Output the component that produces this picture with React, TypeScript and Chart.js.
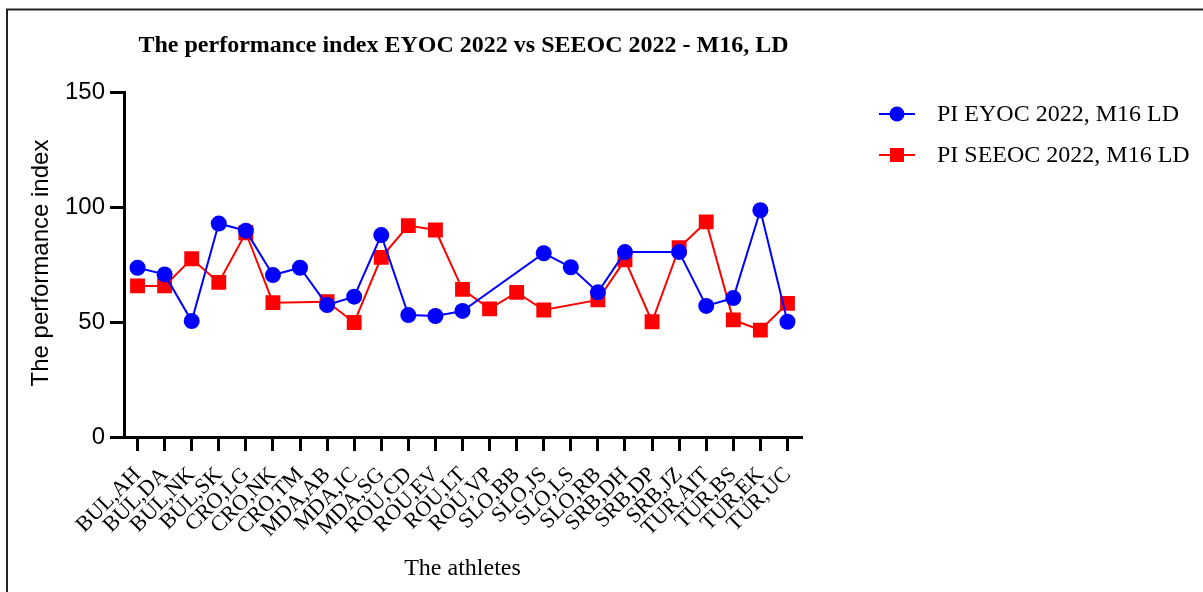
import React, { useEffect, useRef } from "react";
import { Chart, registerables } from "chart.js";

Chart.register(...registerables);

const athletes = [
  "BUL,AH", "BUL,DA", "BUL,NK", "BUL,SK", "CRO,LG", "CRO,NK", "CRO,TM",
  "MDA,AB", "MDA,IC", "MDA,SG", "ROU,CD", "ROU,EV", "ROU,LT", "ROU,VP",
  "SLO,BB", "SLO,JS", "SLO,LS", "SLO,RB", "SRB,DH", "SRB,DP", "SRB,JZ",
  "TUR,AIT", "TUR,BS", "TUR,EK", "TUR,UC",
];

const piEyoc: (number | null)[] = [
  73.6, 70.7, 50.4, 92.8, 89.7, 70.4, 73.6,
  57.4, 61.0, 87.8, 53.0, 52.6, 54.8, null,
  null, 79.9, 73.8, 62.9, 80.4, null, 80.4,
  57.0, 60.4, 98.6, 50.1,
];

const piSeeoc: (number | null)[] = [
  65.7, 65.7, 77.5, 67.2, 88.8, 58.4, null,
  58.8, 49.8, 78.1, 91.9, 90.0, 64.2, 55.7,
  62.9, 55.2, null, 59.6, 77.0, 50.1, 82.3,
  93.5, 50.9, 46.5, 58.1,
];

const yTicks = [0, 50, 100, 150];

const seriesNames = ["PI EYOC 2022, M16 LD", "PI SEEOC 2022, M16 LD"];
const chartTitle = "The performance index EYOC 2022 vs SEEOC 2022 - M16, LD";
const xTitle = "The athletes";
const yTitle = "The performance index";

const SERIF = "'Liberation Serif', 'Times New Roman', serif";
const SANS = "'Liberation Sans', Arial, sans-serif";

const decorPlugin = {
  id: "decor",
  afterDraw(chart: any) {
    const ctx = chart.ctx as CanvasRenderingContext2D;
    const area = chart.chartArea;
    ctx.save();
    // frame
    ctx.strokeStyle = "#222";
    ctx.lineWidth = 2;
    ctx.beginPath();
    ctx.moveTo(7, 592);
    ctx.lineTo(7, 9.5);
    ctx.lineTo(1203, 9.5);
    ctx.stroke();

    const cx = (area.left + area.right) / 2;
    ctx.fillStyle = "#000";
    ctx.textAlign = "center";
    ctx.textBaseline = "alphabetic";
    ctx.font = `bold 24px ${SERIF}`;
    ctx.fillText(chartTitle, cx + 1, 52);

    ctx.font = `24px ${SERIF}`;
    ctx.fillText(xTitle, cx, 575);

    ctx.save();
    ctx.translate(48, 263);
    ctx.rotate(-Math.PI / 2);
    ctx.font = `24px ${SANS}`;
    ctx.fillText(yTitle, 0, 0);
    ctx.restore();

    // legend
    const items = [
      { y: 114, color: "#0000FF", style: "circle" },
      { y: 155, color: "#FF0000", style: "rect" },
    ];
    items.forEach((it, i) => {
      ctx.strokeStyle = it.color;
      ctx.lineWidth = 2;
      ctx.beginPath();
      ctx.moveTo(879, it.y);
      ctx.lineTo(915, it.y);
      ctx.stroke();
      ctx.fillStyle = it.color;
      if (it.style === "circle") {
        ctx.beginPath();
        ctx.arc(897, it.y, 7.5, 0, Math.PI * 2);
        ctx.fill();
      } else {
        ctx.fillRect(897 - 7, it.y - 7, 14, 14);
      }
      ctx.fillStyle = "#000";
      ctx.textAlign = "left";
      ctx.textBaseline = "middle";
      ctx.font = `24px ${SERIF}`;
      ctx.fillText(seriesNames[i], 937, it.y + 1);
    });
    ctx.restore();
  },
};

export default function App() {
  const ref = useRef<HTMLCanvasElement>(null);
  useEffect(() => {
    document.body.style.margin = "0";
    const canvas = ref.current;
    if (!canvas) return;
    const chart = new Chart(canvas, {
      type: "line",
      data: {
        labels: athletes,
        datasets: [
          {
            label: seriesNames[0],
            data: piEyoc,
            borderColor: "#0000FF",
            backgroundColor: "#0000FF",
            borderWidth: 2,
            pointStyle: "circle",
            pointRadius: 8,
            pointBorderWidth: 0,
            spanGaps: true,
            tension: 0,
          },
          {
            label: seriesNames[1],
            data: piSeeoc,
            borderColor: "#FF0000",
            backgroundColor: "#FF0000",
            borderWidth: 2,
            pointStyle: "rect",
            pointRadius: 10.5,
            pointBorderWidth: 0,
            spanGaps: true,
            tension: 0,
          },
        ],
      },
      options: {
        responsive: false,
        animation: false,
        layout: { padding: { left: 0, top: 92, right: 402, bottom: 0 } },
        plugins: {
          legend: { display: false },
          title: { display: false },
          tooltip: { enabled: false },
        },
        scales: {
          x: {
            offset: true,
            grid: {
              display: true,
              drawOnChartArea: false,
              drawTicks: true,
              tickLength: 14,
              color: "#000",
              lineWidth: 3,
              offset: false,
            },
            border: { display: true, color: "#000", width: 3 },
            ticks: {
              autoSkip: false,
              maxRotation: 45,
              minRotation: 45,
              color: "#000",
              padding: 11,
              font: { family: SERIF, size: 22 },
            },
            afterFit: (s: any) => {
              s.height = 592 - 437;
            },
          },
          y: {
            min: 0,
            max: 150,
            afterBuildTicks: (s: any) => {
              s.ticks = yTicks.map((v) => ({ value: v }));
            },
            grid: {
              display: true,
              drawOnChartArea: false,
              drawTicks: true,
              tickLength: 14,
              color: "#000",
              lineWidth: 3,
            },
            border: { display: true, color: "#000", width: 3 },
            ticks: {
              color: "#000",
              padding: 5,
              font: { family: SANS, size: 24 },
            },
            afterFit: (s: any) => {
              s.width = 124;
            },
          },
        },
      },
      plugins: [decorPlugin],
    });
    return () => chart.destroy();
  }, []);
  return (
    <canvas
      ref={ref}
      width={1203}
      height={592}
      style={{ display: "block", width: 1203, height: 592 }}
    />
  );
}
